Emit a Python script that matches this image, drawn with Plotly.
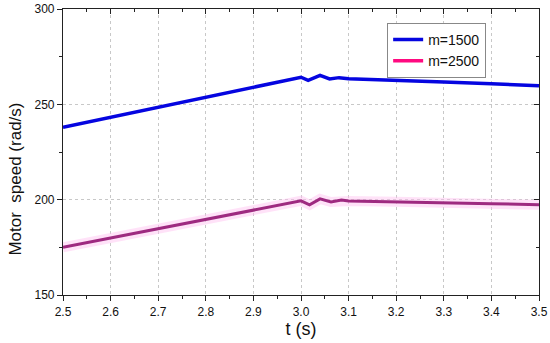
import plotly.graph_objects as go

t_1500 = [2.5, 3.0, 3.015, 3.04, 3.06, 3.08, 3.1, 3.2, 3.3, 3.4, 3.5]
speed_1500 = [238.0, 264.2, 262.6, 265.2, 263.3, 264.0, 263.4, 262.7, 261.7, 260.8, 259.8]

t_2500 = [2.5, 3.0, 3.018, 3.04, 3.063, 3.085, 3.1, 3.2, 3.3, 3.4, 3.5]
speed_2500 = [175.0, 199.4, 197.3, 200.4, 198.8, 199.8, 199.3, 198.9, 198.4, 197.9, 197.3]

x_ticks = [2.5, 2.6, 2.7, 2.8, 2.9, 3.0, 3.1, 3.2, 3.3, 3.4, 3.5]
x_labels = ["2.5", "2.6", "2.7", "2.8", "2.9", "3.0", "3.1", "3.2", "3.3", "3.4", "3.5"]
y_ticks = [150, 200, 250, 300]

FONT = "Liberation Sans, Arial, sans-serif"
fig = go.Figure()

# m=1500
fig.add_trace(go.Scatter(x=t_1500, y=speed_1500, mode="lines", name="m=1500",
                         line=dict(color="#0505e0", width=3.5)))
# m=2500 halo (rendering artifact look)
fig.add_trace(go.Scatter(x=t_2500, y=speed_2500, mode="lines", showlegend=False,
                         hoverinfo="skip",
                         line=dict(color="rgba(255,190,240,0.45)", width=10)))
fig.add_trace(go.Scatter(x=t_2500, y=speed_2500, mode="lines", showlegend=False,
                         legendgroup="m2500",
                         line=dict(color="#9e2a80", width=3)))
# legend entry for m=2500
fig.add_trace(go.Scatter(x=[None], y=[None], mode="lines", name="m=2500",
                         legendgroup="m2500",
                         line=dict(color="#ff0a80", width=3.5)))

axis_common = dict(showline=True, linecolor="#222", linewidth=1.2, mirror=False,
                   ticks="outside", ticklen=5, tickwidth=1, tickcolor="#222",
                   showgrid=True, gridcolor="#c8c8c8", griddash="dot", gridwidth=1,
                   zeroline=False, automargin=False,
                   tickfont=dict(family=FONT, size=12, color="#111"))

fig.update_layout(
    width=550, height=343,
    margin=dict(l=63, r=11, t=9, b=48, autoexpand=False),
    paper_bgcolor="white", plot_bgcolor="white",
    font=dict(family=FONT, color="#111"),
    xaxis=dict(range=[2.5, 3.5], tickvals=x_ticks, ticktext=x_labels,
               minor=dict(ticks="outside", ticklen=3, tickcolor="#222", dtick=0.05, showgrid=False),
               title=dict(text="t (s)", font=dict(family=FONT, size=18), standoff=4),
               **axis_common),
    yaxis=dict(range=[150, 300], tickvals=y_ticks,
               minor=dict(ticks="outside", ticklen=3, tickcolor="#222", dtick=25, showgrid=False),
               **axis_common),
    xaxis2=dict(overlaying="x", matches="x", side="top", showline=True, linecolor="#222",
                linewidth=1.2, ticks="inside", ticklen=5, tickcolor="#222", tickvals=x_ticks,
                showticklabels=False, showgrid=False, zeroline=False, automargin=False,
                minor=dict(ticks="inside", ticklen=3, tickcolor="#222", dtick=0.05)),
    yaxis2=dict(overlaying="y", matches="y", side="right", showline=True, linecolor="#222",
                linewidth=1.2, ticks="inside", ticklen=5, tickcolor="#222", tickvals=y_ticks,
                showticklabels=False, showgrid=False, zeroline=False, automargin=False,
                minor=dict(ticks="inside", ticklen=3, tickcolor="#222", dtick=25)),
    legend=dict(x=0.681, y=0.951, xanchor="left", yanchor="top",
                bgcolor="white", bordercolor="#888", borderwidth=1,
                font=dict(family=FONT, size=14, color="#111"),
                tracegroupgap=0, itemwidth=30),
    showlegend=True,
)
# invisible trace to activate the mirrored axes
fig.add_trace(go.Scatter(x=[2.5], y=[150], xaxis="x2", yaxis="y2", mode="markers",
                         marker=dict(opacity=0), showlegend=False, hoverinfo="skip"))

fig.add_annotation(text="Motor  speed (rad/s)", xref="paper", yref="paper",
                   x=-0.1, y=0.405, xanchor="center", yanchor="middle", textangle=-90,
                   showarrow=False, font=dict(family=FONT, size=17, color="#111"))

fig.write_html("out.html", config={"displayModeBar": False},
               post_script="document.body.style.margin='0';document.body.style.padding='0';")
